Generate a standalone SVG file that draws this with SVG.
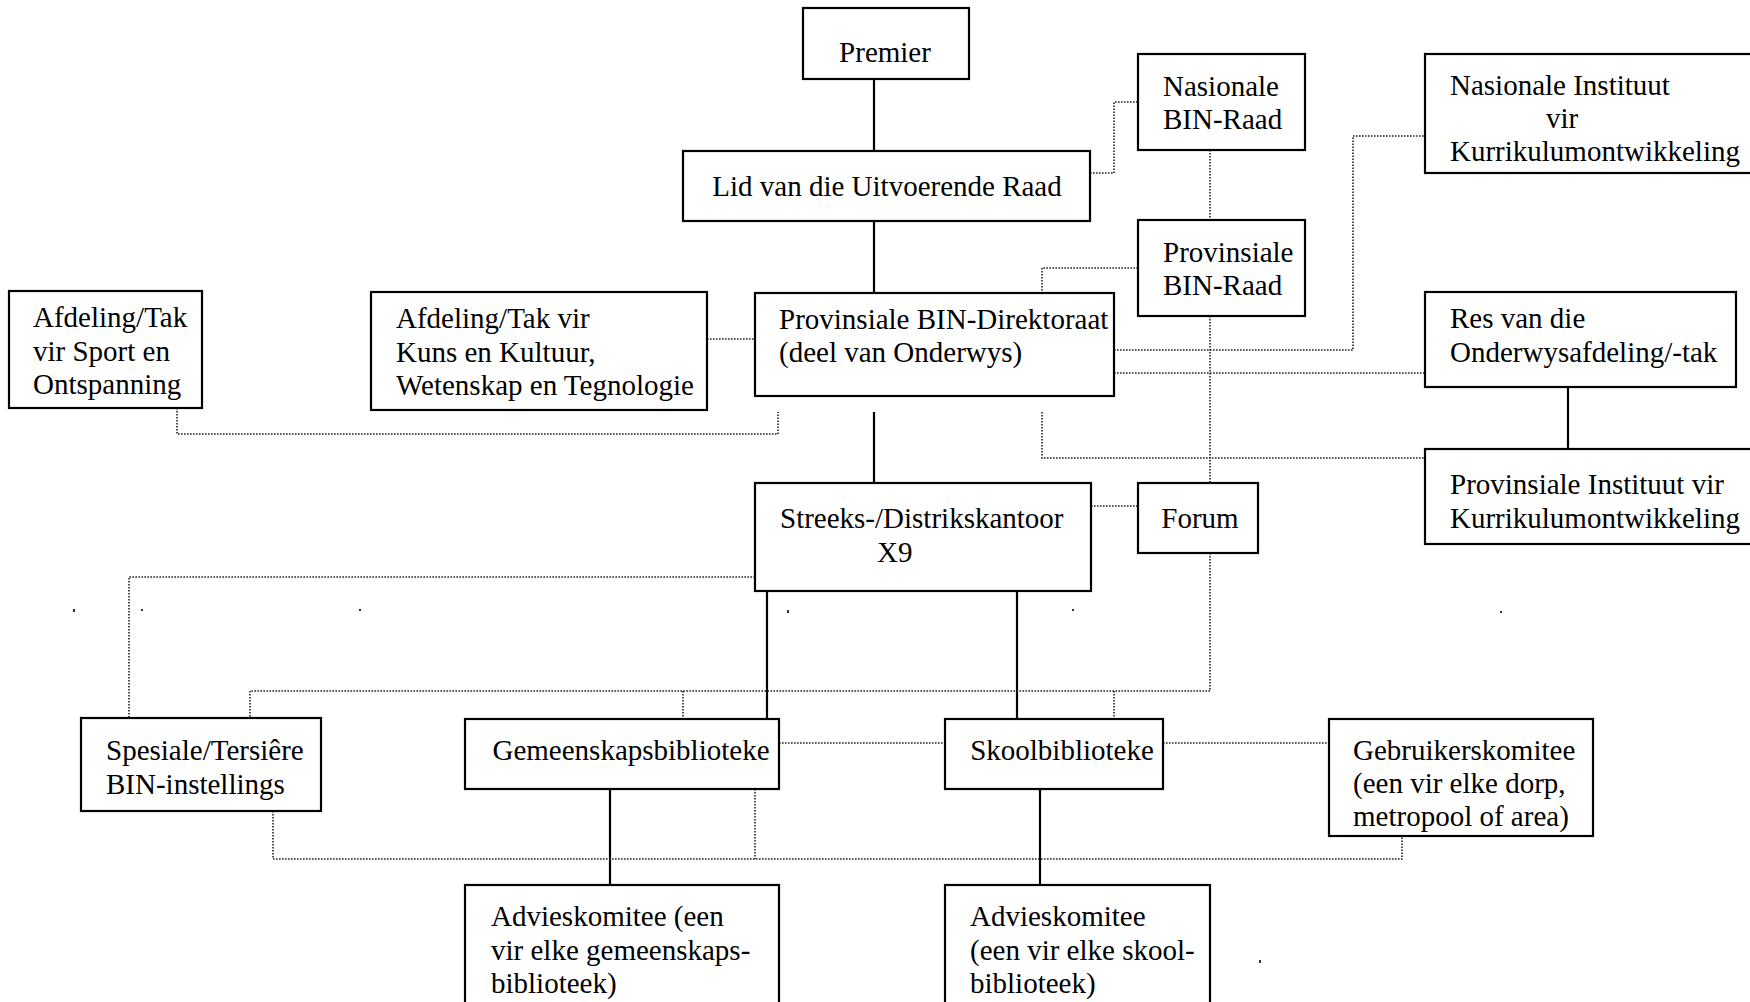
<svg xmlns="http://www.w3.org/2000/svg" width="1750" height="1002" viewBox="0 0 1750 1002">
<style>
.box{fill:#fff;stroke:#000;stroke-width:2.2}
.t{font-family:"Liberation Serif","Times New Roman",serif;font-size:29px;fill:#000}
.m{text-anchor:middle}
.solid{fill:none;stroke:#000;stroke-width:2.2}
.dot{fill:none;stroke:#222;stroke-width:1.6;stroke-dasharray:1.6 1.4}
.sp{fill:#333}
</style>
<rect width="1750" height="1002" fill="#fff"/>
<g id="connectors">
<path class="solid" d="M874 79V151M874 221V293M874 412V483M767 591V719M1017 591V719M610 789V885M1040 789V885M1568 387V458"/>
<path class="dot" d="M1090 173H1114V102H1138"/>
<path class="dot" d="M1210 150V220M1210 316V483M1210 553V691"/>
<path class="dot" d="M1138 268H1042V293"/>
<path class="dot" d="M1042 412V458H1425"/>
<path class="dot" d="M1114 350H1353V136H1425"/>
<path class="dot" d="M1114 373H1425"/>
<path class="dot" d="M707 339H755"/>
<path class="dot" d="M177 408V434H778V412"/>
<path class="dot" d="M1091 506H1138"/>
<path class="dot" d="M755 577H129V718"/>
<path class="dot" d="M1210 691H250V718M683 691V718M1114 691V718"/>
<path class="dot" d="M779 743H945"/>
<path class="dot" d="M1163 743H1329"/>
<path class="dot" d="M273 811V859H1402V836M755 789V859"/>
</g>
<g id="n-premier"><rect class="box" x="803" y="8" width="166" height="71"/><text class="t m" x="885" y="62">Premier</text></g>
<g id="n-lid"><rect class="box" x="683" y="151" width="407" height="70"/><text class="t m" x="887" y="196">Lid van die Uitvoerende Raad</text></g>
<g id="n-nas-bin-raad"><rect class="box" x="1138" y="54" width="167" height="96"/><text class="t" x="1163" y="96">Nasionale</text><text class="t" x="1163" y="129">BIN-Raad</text></g>
<g id="n-prov-bin-raad"><rect class="box" x="1138" y="220" width="167" height="96"/><text class="t" x="1163" y="262">Provinsiale</text><text class="t" x="1163" y="295">BIN-Raad</text></g>
<g id="n-nas-instituut"><rect class="box" x="1425" y="54" width="330" height="119"/><text class="t" x="1450" y="95">Nasionale Instituut</text><text class="t" x="1546" y="128">vir</text><text class="t" x="1450" y="161">Kurrikulumontwikkeling</text></g>
<g id="n-sport"><rect class="box" x="9" y="291" width="193" height="117"/><text class="t" x="33" y="327">Afdeling/Tak</text><text class="t" x="33" y="361">vir Sport en</text><text class="t" x="33" y="394">Ontspanning</text></g>
<g id="n-kuns"><rect class="box" x="371" y="292" width="336" height="118"/><text class="t" x="396" y="328">Afdeling/Tak vir</text><text class="t" x="396" y="362">Kuns en Kultuur,</text><text class="t" x="396" y="395">Wetenskap en Tegnologie</text></g>
<g id="n-direktoraat"><rect class="box" x="755" y="293" width="359" height="103"/><text class="t" x="779" y="329">Provinsiale BIN-Direktoraat</text><text class="t" x="779" y="362">(deel van Onderwys)</text></g>
<g id="n-res"><rect class="box" x="1425" y="292" width="311" height="95"/><text class="t" x="1450" y="328">Res van die</text><text class="t" x="1450" y="362">Onderwysafdeling/-tak</text></g>
<g id="n-prov-instituut"><rect class="box" x="1425" y="449" width="330" height="95"/><text class="t" x="1450" y="494">Provinsiale Instituut vir</text><text class="t" x="1450" y="528">Kurrikulumontwikkeling</text></g>
<g id="n-streeks"><rect class="box" x="755" y="483" width="336" height="108"/><text class="t" x="780" y="528">Streeks-/Distrikskantoor</text><text class="t" x="877" y="562">X9</text></g>
<g id="n-forum"><rect class="box" x="1138" y="483" width="120" height="70"/><text class="t m" x="1200" y="528">Forum</text></g>
<g id="n-spesiale"><rect class="box" x="81" y="718" width="240" height="93"/><text class="t" x="106" y="760">Spesiale/Tersiêre</text><text class="t" x="106" y="794">BIN-instellings</text></g>
<g id="n-gemeenskap"><rect class="box" x="465" y="719" width="314" height="70"/><text class="t m" x="631" y="760">Gemeenskapsbiblioteke</text></g>
<g id="n-skool"><rect class="box" x="945" y="719" width="218" height="70"/><text class="t m" x="1062" y="760">Skoolbiblioteke</text></g>
<g id="n-gebruikers"><rect class="box" x="1329" y="719" width="264" height="117"/><text class="t" x="1353" y="760">Gebruikerskomitee</text><text class="t" x="1353" y="793">(een vir elke dorp,</text><text class="t" x="1353" y="826">metropool of area)</text></g>
<g id="n-advies-gemeenskap"><rect class="box" x="465" y="885" width="314" height="130"/><text class="t" x="491" y="926">Advieskomitee (een</text><text class="t" x="491" y="960">vir elke gemeenskaps-</text><text class="t" x="491" y="993">biblioteek)</text></g>
<g id="n-advies-skool"><rect class="box" x="945" y="885" width="265" height="130"/><text class="t" x="970" y="926">Advieskomitee</text><text class="t" x="970" y="960">(een vir elke skool-</text><text class="t" x="970" y="993">biblioteek)</text></g>
<g id="specks"><rect class="sp" x="73" y="609" width="2" height="3"/><rect class="sp" x="141" y="609" width="2" height="2"/><rect class="sp" x="359" y="609" width="2" height="2"/><rect class="sp" x="787" y="610" width="2" height="3"/><rect class="sp" x="1072" y="609" width="2" height="2"/><rect class="sp" x="1500" y="611" width="2" height="2"/><rect class="sp" x="1259" y="960" width="2" height="3"/></g>
</svg>
